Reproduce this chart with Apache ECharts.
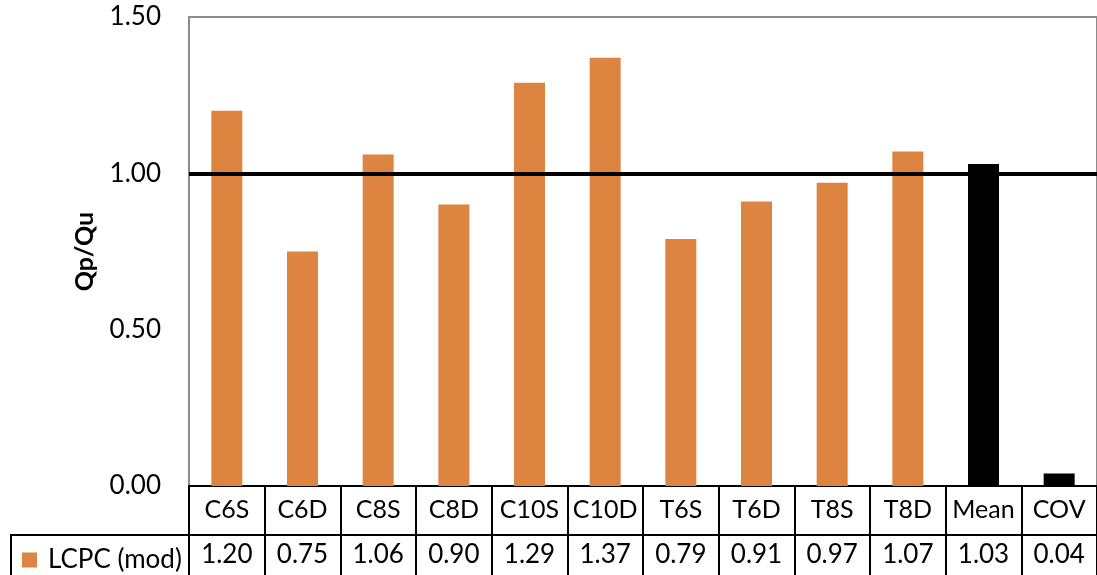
<!DOCTYPE html>
<html>
<head>
<meta charset="utf-8">
<script src="https://cdn.jsdelivr.net/npm/echarts@6/dist/echarts.min.js"></script>
<style>
  html, body { margin: 0; padding: 0; background: #fff; }
  #chart { width: 1097px; height: 575px; }
</style>
</head>
<body>
<div id="chart"></div>
<script>
// data
var categories = ['C6S', 'C6D', 'C8S', 'C8D', 'C10S', 'C10D', 'T6S', 'T6D', 'T8S', 'T8D', 'Mean', 'COV'];
var ratios = [1.20, 0.75, 1.06, 0.90, 1.29, 1.37, 0.79, 0.91, 0.97, 1.07, 1.03, 0.04];
var blackItems = ['Mean', 'COV'];
var seriesName = 'LCPC (mod)';
var yTicks = [0, 0.5, 1.0, 1.5];

var orange = '#dd8441';
var font = 'Lato, "Open Sans", sans-serif';

var myChart = echarts.init(document.getElementById('chart'), null, {renderer: 'canvas'});

var barData = ratios.map(function (v, i) {
    var item = {value: v};
    if (blackItems.indexOf(categories[i]) >= 0) {
        item.itemStyle = {color: '#000'};
    }
    return item;
});

option = {
    animation: false,
    textStyle: {fontFamily: font},
    grid: {
        left: 189,
        top: 17,
        width: 914,
        bottom: 89,
        show: true,
        borderColor: '#8c8c8c',
        borderWidth: 2
    },
    legend: {
        left: 17,
        top: 542,
        icon: 'rect',
        itemWidth: 15,
        itemHeight: 15,
        textStyle: {fontSize: 26, color: '#000', fontFamily: font, padding: [0, 0, 0, 6]},
        data: [seriesName]
    },
    graphic: [{
        type: 'rect',
        shape: {x: 11, y: 535, width: 178, height: 60},
        style: {fill: 'none', stroke: '#000', lineWidth: 2}
    }],
    xAxis: [{
        type: 'category',
        data: categories,
        position: 'bottom',
        axisLine: {lineStyle: {color: '#000', width: 2}},
        axisTick: {show: true, interval: 0, length: 49, lineStyle: {color: '#000', width: 2}},
        axisLabel: {interval: 0, fontSize: 25, color: '#000', margin: 11, fontFamily: font}
    }, {
        type: 'category',
        data: ratios.map(function (v) { return v.toFixed(2); }),
        position: 'bottom',
        offset: 49,
        axisLine: {lineStyle: {color: '#000', width: 2}},
        axisTick: {show: true, interval: 0, length: 50, lineStyle: {color: '#000', width: 2}},
        axisLabel: {interval: 0, fontSize: 26, color: '#000', margin: 7, fontFamily: font}
    }],
    yAxis: {
        type: 'value',
        min: yTicks[0],
        max: yTicks[yTicks.length - 1],
        interval: 0.5,
        name: 'Qp/Qu',
        nameLocation: 'middle',
        nameRotate: 90,
        nameGap: 92,
        nameTextStyle: {fontSize: 25, fontWeight: 'bold', color: '#000', fontFamily: font},
        axisLine: {show: true, lineStyle: {color: '#8c8c8c', width: 2}},
        axisTick: {show: false},
        splitLine: {show: false},
        axisLabel: {
            fontSize: 26,
            color: '#000',
            margin: 28,
            fontFamily: font,
            formatter: function (v) { return v.toFixed(2); }
        }
    },
    series: [{
        name: seriesName,
        type: 'bar',
        xAxisIndex: 0,
        barWidth: 31,
        itemStyle: {color: orange},
        data: barData,
        markLine: {
            silent: true,
            symbol: ['none', 'none'],
            label: {show: false},
            lineStyle: {color: '#000', width: 4, type: 'solid'},
            data: [{yAxis: 1.0}]
        }
    }]
};

myChart.setOption(option);
</script>
</body>
</html>
